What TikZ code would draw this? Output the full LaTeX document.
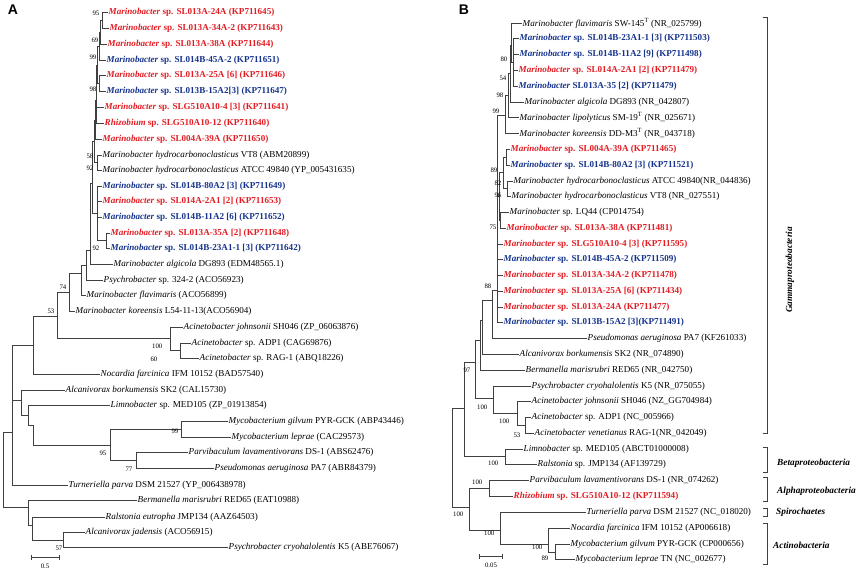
\documentclass[tikz,border=0pt]{standalone}
\usepackage{fontspec}
\setmainfont{Liberation Serif}
\newfontfamily\panelfont{Liberation Sans}
\usepackage{xcolor}
\usepackage{tikz}
\usetikzlibrary{arrows.meta}

\definecolor{strainred}{RGB}{226,29,36}
\definecolor{strainblue}{RGB}{22,52,140}

\newcommand{\taxon}[2]{\textit{#1} #2}
\newcommand{\isolate}[2]{\textbf{\textit{#1} #2}}

\tikzset{
  branch/.style={draw=black!75, line width=0.6pt},
  leaf/.style={anchor=west, inner sep=0.5pt, font=\fontsize{9.1}{10}\selectfont},
  redstrain/.style={leaf, text=strainred},
  bluestrain/.style={leaf, text=strainblue},
  boot/.style={anchor=east, inner sep=0.5pt, font=\fontsize{6.8}{7}\selectfont},
  clade/.style={draw=black!75, line width=0.7pt},
  cladename/.style={inner sep=0pt, font=\fontsize{9.3}{10}\selectfont\bfseries\itshape},
  panel/.style={inner sep=0pt, font=\panelfont\bfseries\fontsize{14}{14}\selectfont}
}

\begin{document}
\begin{tikzpicture}[x=1pt, y=-1pt]
\useasboundingbox (0,0) rectangle (856,571);

% ---------------- panel A ----------------
\node[panel] (pA) at (13,10) {A};

\node[redstrain]  (A1)  at (108,12)  {\isolate{Marinobacter}{sp. SL013A-24A (KP711645)}};
\node[redstrain]  (A2)  at (109,28)  {\isolate{Marinobacter}{sp. SL013A-34A-2 (KP711643)}};
\node[redstrain]  (A3)  at (107,44)  {\isolate{Marinobacter}{sp. SL013A-38A (KP711644)}};
\node[bluestrain] (A4)  at (106,60)  {\isolate{Marinobacter}{sp. SL014B-45A-2 (KP711651)}};
\node[redstrain]  (A5)  at (106,75)  {\isolate{Marinobacter}{sp. SL013A-25A [6] (KP711646)}};
\node[bluestrain] (A6)  at (106,91)  {\isolate{Marinobacter}{sp. SL013B-15A2[3] (KP711647)}};
\node[redstrain]  (A7)  at (104,107) {\isolate{Marinobacter}{sp. SLG510A10-4 [3] (KP711641)}};
\node[redstrain]  (A8)  at (104,123) {\isolate{Rhizobium}{sp. SLG510A10-12 (KP711640)}};
\node[redstrain]  (A9)  at (102,139) {\isolate{Marinobacter}{sp. SL004A-39A (KP711650)}};
\node[leaf]       (A10) at (102,155) {\taxon{Marinobacter hydrocarbonoclasticus}{VT8 (ABM20899)}};
\node[leaf]       (A11) at (102,170) {\taxon{Marinobacter hydrocarbonoclasticus}{ATCC 49840 (YP\_005431635)}};
\node[bluestrain] (A12) at (102,186) {\isolate{Marinobacter}{sp. SL014B-80A2 [3] (KP711649)}};
\node[redstrain]  (A13) at (102,201) {\isolate{Marinobacter}{sp. SL014A-2A1 [2] (KP711653)}};
\node[bluestrain] (A14) at (102,217) {\isolate{Marinobacter}{sp. SL014B-11A2 [6] (KP711652)}};
\node[redstrain]  (A15) at (110,233) {\isolate{Marinobacter}{sp. SL013A-35A [2] (KP711648)}};
\node[bluestrain] (A16) at (110,248) {\isolate{Marinobacter}{sp. SL014B-23A1-1 [3] (KP711642)}};
\node[leaf]       (A17) at (113,264) {\taxon{Marinobacter algicola}{DG893 (EDM48565.1)}};
\node[leaf]       (A18) at (103,280) {\taxon{Psychrobacter}{sp. 324-2 (ACO56923)}};
\node[leaf]       (A19) at (86,295)  {\taxon{Marinobacter flavimaris}{(ACO56899)}};
\node[leaf]       (A20) at (75,311)  {\taxon{Marinobacter koreensis}{L54-11-13(ACO56904)}};
\node[leaf]       (A21) at (183,327) {\taxon{Acinetobacter johnsonii}{SH046 (ZP\_06063876)}};
\node[leaf]       (A22) at (191,343) {\taxon{Acinetobacter}{sp. ADP1 (CAG69876)}};
\node[leaf]       (A23) at (199,358) {\taxon{Acinetobacter}{sp. RAG-1 (ABQ18226)}};
\node[leaf]       (A24) at (100,374) {\taxon{Nocardia farcinica}{IFM 10152 (BAD57540)}};
\node[leaf]       (A25) at (65,390)  {\taxon{Alcanivorax borkumensis}{SK2 (CAL15730)}};
\node[leaf]       (A26) at (110,405) {\taxon{Limnobacter}{sp. MED105 (ZP\_01913854)}};
\node[leaf]       (A27) at (228,421) {\taxon{Mycobacterium gilvum}{PYR-GCK (ABP43446)}};
\node[leaf]       (A28) at (231,437) {\taxon{Mycobacterium leprae}{(CAC29573)}};
\node[leaf]       (A29) at (188,452) {\taxon{Parvibaculum lavamentivorans}{DS-1 (ABS62476)}};
\node[leaf]       (A30) at (214,468) {\taxon{Pseudomonas aeruginosa}{PA7 (ABR84379)}};
\node[leaf]       (A31) at (68,485)  {\taxon{Turneriella parva}{DSM 21527 (YP\_006438978)}};
\node[leaf]       (A32) at (137,500) {\taxon{Bermanella marisrubri}{RED65 (EAT10988)}};
\node[leaf]       (A33) at (105,517) {\taxon{Ralstonia eutropha}{JMP134 (AAZ64503)}};
\node[leaf]       (A34) at (85,532)  {\taxon{Alcanivorax jadensis}{(ACO56915)}};
\node[leaf]       (A35) at (228,547) {\taxon{Psychrobacter cryohalolentis}{K5 (ABE76067)}};

% inner nodes of A
\coordinate (a1)  at (102,20);
\coordinate (a2)  at (100,32);
\coordinate (a3)  at (99,46);
\coordinate (a4)  at (99,83);
\coordinate (a5)  at (97,65);
\coordinate (a6)  at (96,100);
\coordinate (a7)  at (95,120);
\coordinate (a8)  at (97,162);
\coordinate (a9)  at (94,141);
\coordinate (b1)  at (106,240);
\coordinate (b2)  at (97,213);
\coordinate (a10) at (92,183);
\coordinate (a11) at (90,250);
\coordinate (a12) at (86,265);
\coordinate (a13) at (81,273);
\coordinate (a14) at (69,292);
\coordinate (ac1) at (170,338);
\coordinate (ac2) at (180,350);
\coordinate (a15) at (57,316);
\coordinate (a16) at (33,345);
\coordinate (m99) at (181,429);
\coordinate (m77) at (136,460);
\coordinate (m95) at (110,445);
\coordinate (q1)  at (33,425);
\coordinate (l1)  at (28,415);
\coordinate (g1)  at (21,400);
\coordinate (a17) at (12,432);
\coordinate (r1)  at (63,540);
\coordinate (r2)  at (32,525);
\coordinate (r3)  at (28,507);
\coordinate (rootA) at (3,470);

\draw[branch] (a1) |- (A1.west)  (a1) |- (A2.west);
\draw[branch] (a2) |- (a1)  (a2) |- (A3.west);
\draw[branch] (a3) |- (a2)  (a3) |- (A4.west);
\draw[branch] (a4) |- (A5.west)  (a4) |- (A6.west);
\draw[branch] (a5) |- (a3)  (a5) |- (a4);
\draw[branch] (a6) |- (a5)  (a6) |- (A7.west)  (a6) |- (A8.west);
\draw[branch] (a7) |- (a6)  (a7) |- (A9.west);
\draw[branch] (a8) |- (A10.west)  (a8) |- (A11.west);
\draw[branch] (a9) |- (a7)  (a9) |- (a8);
\draw[branch] (b1) |- (A15.west)  (b1) |- (A16.west);
\draw[branch] (b2) |- (A12.west)  (b2) |- (A13.west)  (b2) |- (A14.west)  (b2) |- (b1);
\draw[branch] (a10) |- (a9)  (a10) |- (b2);
\draw[branch] (a11) |- (a10)  (a11) |- (A17.west);
\draw[branch] (a12) |- (a11)  (a12) |- (A18.west);
\draw[branch] (a13) |- (a12)  (a13) |- (A19.west);
\draw[branch] (a14) |- (a13)  (a14) |- (A20.west);
\draw[branch] (ac2) |- (A22.west)  (ac2) |- (A23.west);
\draw[branch] (ac1) |- (A21.west)  (ac1) |- (ac2);
\draw[branch] (a15) |- (a14)  (a15) |- (ac1);
\draw[branch] (a16) |- (a15)  (a16) |- (A24.west);
\draw[branch] (m99) |- (A27.west)  (m99) |- (A28.west);
\draw[branch] (m77) |- (A29.west)  (m77) |- (A30.west);
\draw[branch] (m95) |- (m99)  (m95) |- (m77);
\draw[branch] (q1) |- (m95);
\draw[branch] (l1) |- (A26.west)  (l1) |- (q1);
\draw[branch] (g1) |- (A25.west)  (g1) |- (l1);
\draw[branch] (a17) |- (a16)  (a17) |- (g1)  (a17) |- (A31.west);
\draw[branch] (r1) |- (A34.west)  (r1) |- (A35.west);
\draw[branch] (r2) |- (A33.west)  (r2) |- (r1);
\draw[branch] (r3) |- (A32.west)  (r3) |- (r2);
\draw[branch] (rootA) |- (a17)  (rootA) |- (r3);

% bootstrap values of A
\node[boot] at (100,13)  {95};
\node[boot] at (99,40)   {69};
\node[boot] at (97,57)   {99};
\node[boot] at (97,89)   {98};
\node[boot] at (94,156)  {58};
\node[boot] at (94,168)  {92};
\node[boot] at (100,248) {92};
\node[boot] at (67,287)  {74};
\node[boot] at (55,311)  {53};
\node[boot] at (163,346) {100};
\node[boot] at (158,359) {60};
\node[boot] at (179,431) {99};
\node[boot] at (107,453) {95};
\node[boot] at (133,469) {77};
\node[boot] at (63,548)  {57};

% scale bar A
\coordinate (sa1) at (31,557);
\coordinate (sa2) at (60,557);
\draw[branch, {Bar[width=5pt]}-{Bar[width=5pt]}] (sa1) -- (sa2);
\node[boot, anchor=center] (sla) at (45,566) {0.5};

% ---------------- panel B ----------------
\node[panel] (pB) at (464,10) {B};

\node[leaf]       (B1)  at (522,23)  {\taxon{Marinobacter flavimaris}{SW-145\textsuperscript{T} (NR\_025799)}};
\node[bluestrain] (B2)  at (519,38)  {\isolate{Marinobacter}{sp. SL014B-23A1-1 [3] (KP711503)}};
\node[bluestrain] (B3)  at (519,54)  {\isolate{Marinobacter}{sp. SL014B-11A2 [9] (KP711498)}};
\node[redstrain]  (B4)  at (518,70)  {\isolate{Marinobacter}{sp. SL014A-2A1 [2] (KP711479)}};
\node[bluestrain] (B5)  at (518,86)  {\isolate{Marinobacter}{SL013A-35 [2] (KP711479)}};
\node[leaf]       (B6)  at (524,102) {\taxon{Marinobacter algicola}{DG893 (NR\_042807)}};
\node[leaf]       (B7)  at (519,117) {\taxon{Marinobacter lipolyticus}{SM-19\textsuperscript{T} (NR\_025671)}};
\node[leaf]       (B8)  at (519,133) {\taxon{Marinobacter koreensis}{DD-M3\textsuperscript{T} (NR\_043718)}};
\node[redstrain]  (B9)  at (510,149) {\isolate{Marinobacter}{sp. SL004A-39A (KP711465)}};
\node[bluestrain] (B10) at (510,165) {\isolate{Marinobacter}{sp. SL014B-80A2 [3] (KP711521)}};
\node[leaf]       (B11) at (513,181) {\taxon{Marinobacter hydrocarbonoclasticus}{ATCC 49840(NR\_044836)}};
\node[leaf]       (B12) at (511,196) {\taxon{Marinobacter hydrocarbonoclasticus}{VT8 (NR\_027551)}};
\node[leaf]       (B13) at (509,212) {\taxon{Marinobacter}{sp. LQ44 (CP014754)}};
\node[redstrain]  (B14) at (506,228) {\isolate{Marinobacter}{sp. SL013A-38A (KP711481)}};
\node[redstrain]  (B15) at (503,244) {\isolate{Marinobacter}{sp. SLG510A10-4 [3] (KP711595)}};
\node[bluestrain] (B16) at (503,259) {\isolate{Marinobacter}{sp. SL014B-45A-2 (KP711509)}};
\node[redstrain]  (B17) at (503,275) {\isolate{Marinobacter}{sp. SL013A-34A-2 (KP711478)}};
\node[redstrain]  (B18) at (503,291) {\isolate{Marinobacter}{sp. SL013A-25A [6] (KP711434)}};
\node[redstrain]  (B19) at (503,307) {\isolate{Marinobacter}{sp. SL013A-24A (KP711477)}};
\node[bluestrain] (B20) at (503,322) {\isolate{Marinobacter}{sp. SL013B-15A2 [3](KP711491)}};
\node[leaf]       (B21) at (587,338) {\taxon{Pseudomonas aeruginosa}{PA7 (KF261033)}};
\node[leaf]       (B22) at (519,354) {\taxon{Alcanivorax borkumensis}{SK2 (NR\_074890)}};
\node[leaf]       (B23) at (525,370) {\taxon{Bermanella marisrubri}{RED65 (NR\_042750)}};
\node[leaf]       (B24) at (531,386) {\taxon{Psychrobacter cryohalolentis}{K5 (NR\_075055)}};
\node[leaf]       (B25) at (531,401) {\taxon{Acinetobacter johnsonii}{SH046 (NZ\_GG704984)}};
\node[leaf]       (B26) at (531,417) {\taxon{Acinetobacter}{sp. ADP1 (NC\_005966)}};
\node[leaf]       (B27) at (534,433) {\taxon{Acinetobacter venetianus}{RAG-1(NR\_042049)}};
\node[leaf]       (B28) at (523,449) {\taxon{Limnobacter}{sp. MED105 (ABCT01000008)}};
\node[leaf]       (B29) at (537,464) {\taxon{Ralstonia}{sp. JMP134 (AF139729)}};
\node[leaf]       (B30) at (529,480) {\taxon{Parvibaculum lavamentivorans}{DS-1 (NR\_074262)}};
\node[redstrain]  (B31) at (513,496) {\isolate{Rhizobium}{sp. SLG510A10-12 (KP711594)}};
\node[leaf]       (B32) at (586,512) {\taxon{Turneriella parva}{DSM 21527 (NC\_018020)}};
\node[leaf]       (B33) at (570,528) {\taxon{Nocardia farcinica}{IFM 10152 (AP006618)}};
\node[leaf]       (B34) at (570,544) {\taxon{Mycobacterium gilvum}{PYR-GCK (CP000656)}};
\node[leaf]       (B35) at (575,559) {\taxon{Mycobacterium leprae}{TN (NC\_002677)}};

% inner nodes of B
\coordinate (p1)    at (513,62);
\coordinate (p2)    at (511,45);
\coordinate (p3)    at (510,73);
\coordinate (p4)    at (508,95);
\coordinate (p5)    at (505,115);
\coordinate (p6)    at (506,157);
\coordinate (p7)    at (507,188);
\coordinate (p8)    at (503,172);
\coordinate (p9)    at (500,220);
\coordinate (p10)   at (499,196);
\coordinate (mar)   at (497,290);
\coordinate (g3)    at (492,300);
\coordinate (g2)    at (482,320);
\coordinate (g1b)   at (480,340);
\coordinate (a53)   at (525,425);
\coordinate (acb)   at (517,413);
\coordinate (pab)   at (493,398);
\coordinate (gam)   at (475,362);
\coordinate (lr)    at (505,456);
\coordinate (n464)  at (464,408);
\coordinate (alpha) at (489,488);
\coordinate (my)    at (555,552);
\coordinate (act)   at (548,544);
\coordinate (sa)    at (500,530);
\coordinate (n469)  at (469,507);
\coordinate (rootB) at (452,460);

\draw[branch] (p1) |- (B2.west)  (p1) |- (B3.west)  (p1) |- (B4.west)  (p1) |- (B5.west);
\draw[branch] (p2) |- (B1.west)  (p2) |- (p1);
\draw[branch] (p3) |- (p2)  (p3) |- (B6.west);
\draw[branch] (p4) |- (p3)  (p4) |- (B7.west);
\draw[branch] (p5) |- (p4)  (p5) |- (B8.west);
\draw[branch] (p6) |- (B9.west)  (p6) |- (B10.west);
\draw[branch] (p7) |- (B11.west)  (p7) |- (B12.west);
\draw[branch] (p8) |- (p6)  (p8) |- (p7);
\draw[branch] (p9) |- (B13.west)  (p9) |- (B14.west);
\draw[branch] (p10) |- (p8)  (p10) |- (p9);
\draw[branch] (mar) |- (p5)  (mar) |- (p10)
  (mar) |- (B15.west)  (mar) |- (B16.west)  (mar) |- (B17.west)
  (mar) |- (B18.west)  (mar) |- (B19.west)  (mar) |- (B20.west);
\draw[branch] (g3) |- (mar)  (g3) |- (B21.west);
\draw[branch] (g2) |- (g3)  (g2) |- (B22.west);
\draw[branch] (g1b) |- (g2)  (g1b) |- (B23.west);
\draw[branch] (a53) |- (B26.west)  (a53) |- (B27.west);
\draw[branch] (acb) |- (B25.west)  (acb) |- (a53);
\draw[branch] (pab) |- (B24.west)  (pab) |- (acb);
\draw[branch] (gam) |- (g1b)  (gam) |- (pab);
\draw[branch] (lr) |- (B28.west)  (lr) |- (B29.west);
\draw[branch] (n464) |- (gam)  (n464) |- (lr);
\draw[branch] (alpha) |- (B30.west)  (alpha) |- (B31.west);
\draw[branch] (my) |- (B34.west)  (my) |- (B35.west);
\draw[branch] (act) |- (B33.west)  (act) |- (my);
\draw[branch] (sa) |- (B32.west)  (sa) |- (act);
\draw[branch] (n469) |- (alpha)  (n469) |- (sa);
\draw[branch] (rootB) |- (n464)  (rootB) |- (n469);

% bootstrap values of B
\node[boot] at (508,59)  {80};
\node[boot] at (507,78)  {54};
\node[boot] at (504,95)  {98};
\node[boot] at (500,111) {99};
\node[boot] at (498,170) {89};
\node[boot] at (502,183) {82};
\node[boot] at (502,195) {96};
\node[boot] at (497,227) {75};
\node[boot] at (492,286) {88};
\node[boot] at (471,370) {97};
\node[boot] at (488,407) {100};
\node[boot] at (510,421) {100};
\node[boot] at (521,435) {53};
\node[boot] at (499,463) {100};
\node[boot] at (483,482) {100};
\node[boot] at (464,514) {100};
\node[boot] at (495,533) {100};
\node[boot] at (543,547) {100};
\node[boot] at (549,558) {89};

% scale bar B
\coordinate (sb1) at (479,556);
\coordinate (sb2) at (503,556);
\draw[branch, {Bar[width=5pt]}-{Bar[width=5pt]}] (sb1) -- (sb2);
\node[boot, anchor=center] (slb) at (491,565) {0.05};

% clade brackets
\coordinate (gt) at (767,17);  \coordinate (gb) at (767,433);
\coordinate (bt) at (767,447); \coordinate (bb) at (767,472);
\coordinate (lt) at (767,477); \coordinate (lb) at (767,501);
\coordinate (st) at (767,508); \coordinate (sbt) at (767,516);
\coordinate (ct) at (767,523); \coordinate (cb) at (767,564);
\draw[clade] ([xshift=-4pt]gt) -- (gt) -- (gb) -- ([xshift=-4pt]gb);
\draw[clade] ([xshift=-4pt]bt) -- (bt) -- (bb) -- ([xshift=-4pt]bb);
\draw[clade] ([xshift=-4pt]lt) -- (lt) -- (lb) -- ([xshift=-4pt]lb);
\draw[clade] ([xshift=-4pt]st) -- (st) -- (sbt) -- ([xshift=-4pt]sbt);
\draw[clade] ([xshift=-4pt]ct) -- (ct) -- (cb) -- ([xshift=-4pt]cb);
\node[cladename, rotate=90] (gamma) at (790,270) {Gammaproteobacteria};
\node[cladename, anchor=west] (beta)  at (777,463) {Betaproteobacteria};
\node[cladename, anchor=west] (alphap) at (777,491) {Alphaproteobacteria};
\node[cladename, anchor=west] (spiro) at (776,512) {Spirochaetes};
\node[cladename, anchor=west] (actino) at (773,545) {Actinobacteria};
\end{tikzpicture}
\end{document}
